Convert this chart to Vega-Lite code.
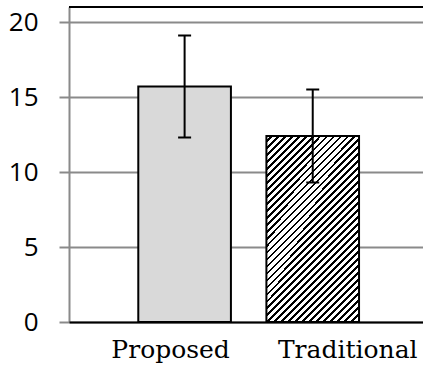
{
  "$schema": "https://vega.github.io/schema/vega-lite/v6.json",
  "width": 354,
  "height": 315,
  "autosize": {"type": "none"},
  "padding": {"left": 69, "top": 7, "right": 0, "bottom": 45},
  "background": "white",
  "config": {"view": {"stroke": null}},
  "data": {
    "values": [
      {"method": "Proposed", "mean": 15.7, "lo": 12.3, "hi": 19.1},
      {"method": "Traditional", "mean": 12.4, "lo": 9.3, "hi": 15.5}
    ]
  },
  "layer": [
    {
      "encoding": {
        "x": {
          "field": "method",
          "type": "nominal",
          "sort": ["Proposed", "Traditional"],
          "scale": {"paddingInner": 0.277, "paddingOuter": 0.52, "align": 0.52},
          "axis": {
            "title": null,
            "labelAngle": 0,
            "ticks": false,
            "domainColor": "black",
            "domainWidth": 2,
            "zindex": 1,
            "labelFont": "DejaVu Serif",
            "labelFontSize": 25,
            "labelColor": "black",
            "labelBaseline": "top",
            "labelPadding": 15,
            "labelOffset": {"condition": {"test": "datum.value === 'Traditional'", "value": 35}, "value": -14}
          }
        }
      },
      "layer": [
        {
          "transform": [{"filter": "datum.method === 'Proposed'"}],
          "mark": {"type": "bar", "fill": "#d9d9d9", "stroke": "black", "strokeWidth": 2},
          "encoding": {
            "y": {
              "field": "mean",
              "type": "quantitative",
              "scale": {"domain": [0, 21], "nice": false},
              "axis": {
                "title": null,
                "values": [0, 5, 10, 15, 20],
                "grid": true,
                "gridColor": "#8a8a8a",
                "gridWidth": 2,
                "domainColor": "#8a8a8a",
                "domainWidth": 2,
                "tickColor": "#8a8a8a",
                "tickWidth": 2,
                "tickSize": 10,
                "labelFont": "Open Sans",
                "labelFontSize": 26,
                "labelColor": "black",
                "labelPadding": 21
              }
            }
          }
        },
        {
          "transform": [{"filter": "datum.method === 'Traditional'"}],
          "mark": {
            "type": "bar",
            "stroke": "black",
            "strokeWidth": 2,
            "fill": {
              "gradient": "linear",
              "x1": 0, "y1": 0, "x2": 0.6, "y2": 1.2,
              "stops": [
                {"offset": 0, "color": "#fff"}, {"offset": 0.015, "color": "#fff"}, {"offset": 0.015, "color": "#000"}, {"offset": 0.025, "color": "#000"},
                {"offset": 0.025, "color": "#fff"}, {"offset": 0.04, "color": "#fff"}, {"offset": 0.04, "color": "#000"}, {"offset": 0.05, "color": "#000"},
                {"offset": 0.05, "color": "#fff"}, {"offset": 0.065, "color": "#fff"}, {"offset": 0.065, "color": "#000"}, {"offset": 0.075, "color": "#000"},
                {"offset": 0.075, "color": "#fff"}, {"offset": 0.09, "color": "#fff"}, {"offset": 0.09, "color": "#000"}, {"offset": 0.1, "color": "#000"},
                {"offset": 0.1, "color": "#fff"}, {"offset": 0.115, "color": "#fff"}, {"offset": 0.115, "color": "#000"}, {"offset": 0.125, "color": "#000"},
                {"offset": 0.125, "color": "#fff"}, {"offset": 0.14, "color": "#fff"}, {"offset": 0.14, "color": "#000"}, {"offset": 0.15, "color": "#000"},
                {"offset": 0.15, "color": "#fff"}, {"offset": 0.165, "color": "#fff"}, {"offset": 0.165, "color": "#000"}, {"offset": 0.175, "color": "#000"},
                {"offset": 0.175, "color": "#fff"}, {"offset": 0.19, "color": "#fff"}, {"offset": 0.19, "color": "#000"}, {"offset": 0.2, "color": "#000"},
                {"offset": 0.2, "color": "#fff"}, {"offset": 0.215, "color": "#fff"}, {"offset": 0.215, "color": "#000"}, {"offset": 0.225, "color": "#000"},
                {"offset": 0.225, "color": "#fff"}, {"offset": 0.24, "color": "#fff"}, {"offset": 0.24, "color": "#000"}, {"offset": 0.25, "color": "#000"},
                {"offset": 0.25, "color": "#fff"}, {"offset": 0.265, "color": "#fff"}, {"offset": 0.265, "color": "#000"}, {"offset": 0.275, "color": "#000"},
                {"offset": 0.275, "color": "#fff"}, {"offset": 0.29, "color": "#fff"}, {"offset": 0.29, "color": "#000"}, {"offset": 0.3, "color": "#000"},
                {"offset": 0.3, "color": "#fff"}, {"offset": 0.315, "color": "#fff"}, {"offset": 0.315, "color": "#000"}, {"offset": 0.325, "color": "#000"},
                {"offset": 0.325, "color": "#fff"}, {"offset": 0.34, "color": "#fff"}, {"offset": 0.34, "color": "#000"}, {"offset": 0.35, "color": "#000"},
                {"offset": 0.35, "color": "#fff"}, {"offset": 0.365, "color": "#fff"}, {"offset": 0.365, "color": "#000"}, {"offset": 0.375, "color": "#000"},
                {"offset": 0.375, "color": "#fff"}, {"offset": 0.39, "color": "#fff"}, {"offset": 0.39, "color": "#000"}, {"offset": 0.4, "color": "#000"},
                {"offset": 0.4, "color": "#fff"}, {"offset": 0.415, "color": "#fff"}, {"offset": 0.415, "color": "#000"}, {"offset": 0.425, "color": "#000"},
                {"offset": 0.425, "color": "#fff"}, {"offset": 0.44, "color": "#fff"}, {"offset": 0.44, "color": "#000"}, {"offset": 0.45, "color": "#000"},
                {"offset": 0.45, "color": "#fff"}, {"offset": 0.465, "color": "#fff"}, {"offset": 0.465, "color": "#000"}, {"offset": 0.475, "color": "#000"},
                {"offset": 0.475, "color": "#fff"}, {"offset": 0.49, "color": "#fff"}, {"offset": 0.49, "color": "#000"}, {"offset": 0.5, "color": "#000"},
                {"offset": 0.5, "color": "#fff"}, {"offset": 0.515, "color": "#fff"}, {"offset": 0.515, "color": "#000"}, {"offset": 0.525, "color": "#000"},
                {"offset": 0.525, "color": "#fff"}, {"offset": 0.54, "color": "#fff"}, {"offset": 0.54, "color": "#000"}, {"offset": 0.55, "color": "#000"},
                {"offset": 0.55, "color": "#fff"}, {"offset": 0.565, "color": "#fff"}, {"offset": 0.565, "color": "#000"}, {"offset": 0.575, "color": "#000"},
                {"offset": 0.575, "color": "#fff"}, {"offset": 0.59, "color": "#fff"}, {"offset": 0.59, "color": "#000"}, {"offset": 0.6, "color": "#000"},
                {"offset": 0.6, "color": "#fff"}, {"offset": 0.615, "color": "#fff"}, {"offset": 0.615, "color": "#000"}, {"offset": 0.625, "color": "#000"},
                {"offset": 0.625, "color": "#fff"}, {"offset": 0.64, "color": "#fff"}, {"offset": 0.64, "color": "#000"}, {"offset": 0.65, "color": "#000"},
                {"offset": 0.65, "color": "#fff"}, {"offset": 0.665, "color": "#fff"}, {"offset": 0.665, "color": "#000"}, {"offset": 0.675, "color": "#000"},
                {"offset": 0.675, "color": "#fff"}, {"offset": 0.69, "color": "#fff"}, {"offset": 0.69, "color": "#000"}, {"offset": 0.7, "color": "#000"},
                {"offset": 0.7, "color": "#fff"}, {"offset": 0.715, "color": "#fff"}, {"offset": 0.715, "color": "#000"}, {"offset": 0.725, "color": "#000"},
                {"offset": 0.725, "color": "#fff"}, {"offset": 0.74, "color": "#fff"}, {"offset": 0.74, "color": "#000"}, {"offset": 0.75, "color": "#000"},
                {"offset": 0.75, "color": "#fff"}, {"offset": 0.765, "color": "#fff"}, {"offset": 0.765, "color": "#000"}, {"offset": 0.775, "color": "#000"},
                {"offset": 0.775, "color": "#fff"}, {"offset": 0.79, "color": "#fff"}, {"offset": 0.79, "color": "#000"}, {"offset": 0.8, "color": "#000"},
                {"offset": 0.8, "color": "#fff"}, {"offset": 0.815, "color": "#fff"}, {"offset": 0.815, "color": "#000"}, {"offset": 0.825, "color": "#000"},
                {"offset": 0.825, "color": "#fff"}, {"offset": 0.84, "color": "#fff"}, {"offset": 0.84, "color": "#000"}, {"offset": 0.85, "color": "#000"},
                {"offset": 0.85, "color": "#fff"}, {"offset": 0.865, "color": "#fff"}, {"offset": 0.865, "color": "#000"}, {"offset": 0.875, "color": "#000"},
                {"offset": 0.875, "color": "#fff"}, {"offset": 0.89, "color": "#fff"}, {"offset": 0.89, "color": "#000"}, {"offset": 0.9, "color": "#000"},
                {"offset": 0.9, "color": "#fff"}, {"offset": 0.915, "color": "#fff"}, {"offset": 0.915, "color": "#000"}, {"offset": 0.925, "color": "#000"},
                {"offset": 0.925, "color": "#fff"}, {"offset": 0.94, "color": "#fff"}, {"offset": 0.94, "color": "#000"}, {"offset": 0.95, "color": "#000"},
                {"offset": 0.95, "color": "#fff"}, {"offset": 0.965, "color": "#fff"}, {"offset": 0.965, "color": "#000"}, {"offset": 0.975, "color": "#000"},
                {"offset": 0.975, "color": "#fff"}, {"offset": 0.99, "color": "#fff"}, {"offset": 0.99, "color": "#000"}, {"offset": 1, "color": "#000"}
              ]
            }
          },
          "encoding": {
            "y": {"field": "mean", "type": "quantitative"}
          }
        },
        {
          "mark": {"type": "rule", "color": "black", "strokeWidth": 2},
          "encoding": {
            "y": {"field": "lo", "type": "quantitative"},
            "y2": {"field": "hi"}
          }
        },
        {
          "mark": {"type": "tick", "orient": "horizontal", "color": "black", "size": 13, "thickness": 2, "opacity": 1},
          "encoding": {
            "y": {"field": "lo", "type": "quantitative"}
          }
        },
        {
          "mark": {"type": "tick", "orient": "horizontal", "color": "black", "size": 13, "thickness": 2, "opacity": 1},
          "encoding": {
            "y": {"field": "hi", "type": "quantitative"}
          }
        }
      ]
    },
    {
      "mark": {"type": "rule", "color": "black", "strokeWidth": 2},
      "encoding": {
        "y": {"datum": 21, "type": "quantitative"}
      }
    }
  ]
}
